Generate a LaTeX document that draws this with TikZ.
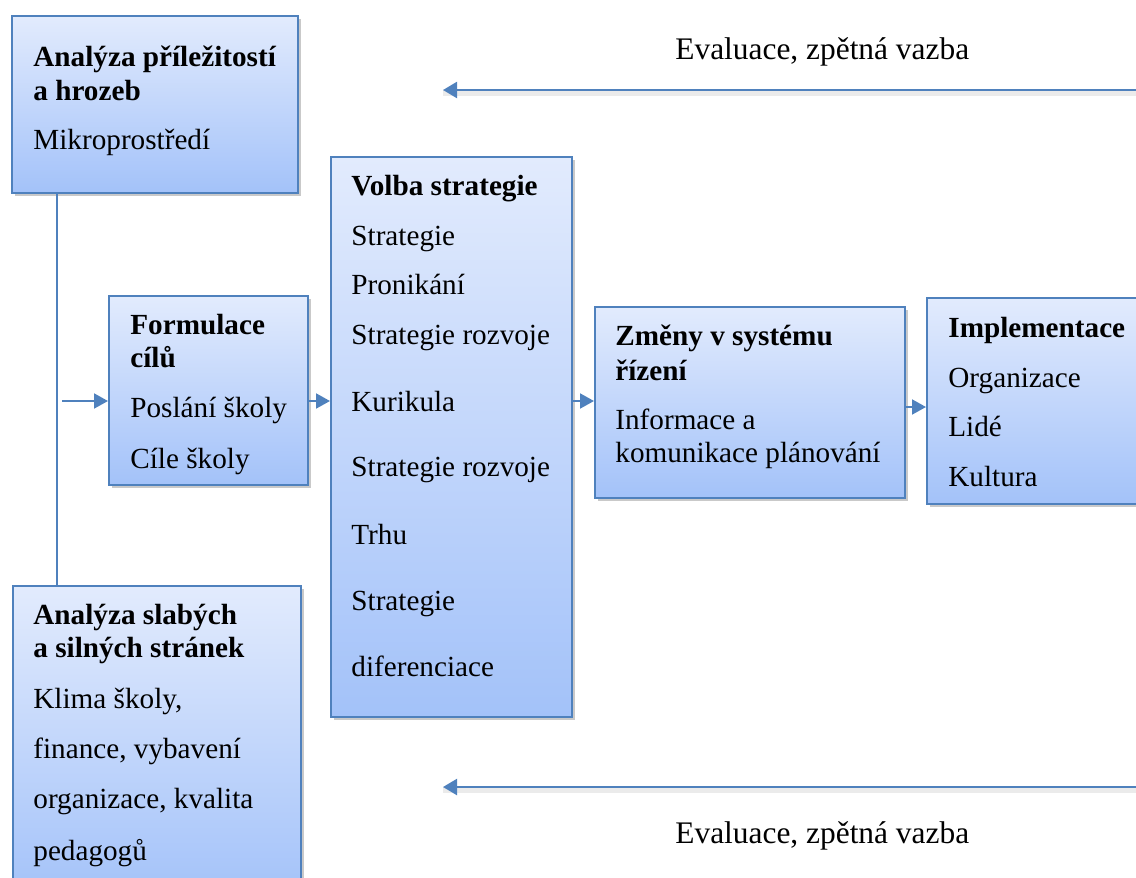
\documentclass[tikz,border=0pt]{standalone}
\usepackage{fontspec}
\setmainfont{Liberation Serif}
\usetikzlibrary{arrows.meta,shadows}
\definecolor{officeblue}{HTML}{4F81BD}
\definecolor{boxtop}{HTML}{E2EBFD}
\definecolor{boxbottom}{HTML}{A3C2F9}
\tikzset{
  stage/.style={
    draw=officeblue, line width=1pt,
    top color=boxtop, bottom color=boxbottom,
    drop shadow={shadow xshift=1.5pt, shadow yshift=-1.5pt, opacity=0.3, fill=black!70},
    inner sep=0pt
  },
  head/.style={anchor=base west, inner sep=0pt, font=\fontsize{14.6}{17}\selectfont\bfseries},
  item/.style={anchor=base west, inner sep=0pt, font=\fontsize{14.6}{17}\selectfont},
  note/.style={anchor=base west, inner sep=0pt, font=\fontsize{15.7}{18}\selectfont},
  flow/.style={draw=officeblue, line width=1pt, -{Triangle[length=7pt,width=7.5pt]}},
  feedback/.style={
    draw=officeblue, line width=1.1pt, -{Triangle[length=7pt,width=8pt]},
    preaction={draw=black!8, line width=3pt, transform canvas={yshift=-1.5pt}, -}
  },
}

\begin{document}
\begin{tikzpicture}[x=0.5pt,y=-0.5pt]
  \useasboundingbox (0,0) rectangle (1136,878);
  % boxes
  \node[stage, minimum width=143pt, minimum height=88.5pt] (opp) at (155,104.5) {};
  \node[stage, minimum width=99.5pt, minimum height=94.5pt] (goals) at (208.5,390.5) {};
  \node[stage, minimum width=120.5pt, minimum height=280pt] (strategy) at (451.5,437) {};
  \node[stage, minimum width=155pt, minimum height=95.5pt] (changes) at (750,402.5) {};
  \node[stage, minimum width=111.5pt, minimum height=103pt] (impl) at (1038.5,401) {};
  \node[stage, minimum width=144pt, minimum height=157pt] (weak) at (157,743) {};
  % box texts
  \foreach \y/\s/\t [count=\i] in {58/head/Analýza příležitostí, 92/head/a hrozeb, 141/item/Mikroprostředí} {%
    \node[\s] (opp-\i) at (33,\y+8) {\t};
  }
  \foreach \y/\s/\t [count=\i] in {326/head/Formulace, 359/head/cílů, 409/item/Poslání školy, 460/item/Cíle školy} {%
    \node[\s] (goals-\i) at (130,\y+8) {\t};
  }
  \foreach \y/\s/\t [count=\i] in {187/head/Volba strategie, 237/item/Strategie, 286/item/Pronikání,
      336/item/Strategie rozvoje, 403/item/Kurikula, 468/item/Strategie rozvoje, 536/item/Trhu,
      602/item/Strategie, 668/item/diferenciace} {%
    \node[\s] (strategy-\i) at (351,\y+8) {\t};
  }
  \foreach \y/\s/\t [count=\i] in {337/head/Změny v systému, 372/head/řízení, 421/item/Informace a,
      454/item/komunikace plánování} {%
    \node[\s] (changes-\i) at (615,\y+8) {\t};
  }
  \foreach \y/\s/\t [count=\i] in {329/head/Implementace, 379/item/Organizace, 428/item/Lidé, 478/item/Kultura} {%
    \node[\s] (impl-\i) at (948,\y+8) {\t};
  }
  \foreach \y/\s/\t [count=\i] in {616/head/Analýza slabých, 649/head/a silných stránek, 700/item/{Klima školy,},
      750/item/{finance, vybavení}, 800/item/{organizace, kvalita}, 852/item/pedagogů} {%
    \node[\s] (weak-\i) at (33,\y+8) {\t};
  }
  % analysis spine
  \coordinate (spine) at (57,401);
  \coordinate (feed) at (62,401);
  \coordinate (feedb) at (0,407);
  \draw[officeblue, line width=1pt] (opp.south -| spine) -- (weak.north -| spine);
  % flow
  \draw[flow] (feed) -- (goals.west |- feed);
  \draw[flow] (goals.east |- feed) -- (strategy.west |- feed);
  \draw[flow] (strategy.east |- feed) -- (changes.west |- feed);
  \draw[flow] (changes.east |- feedb) -- (impl.west |- feedb);
  % feedback
  \coordinate (fbtop) at (1140,90);
  \coordinate (fbtopend) at (443,90);
  \coordinate (fbbot) at (1140,787);
  \coordinate (fbbotend) at (443,787);
  \draw[feedback] (fbtop) -- (fbtopend);
  \draw[feedback] (fbbot) -- (fbbotend);
  \node[note] (evaltop) at (675,60) {Evaluace, zpětná vazba};
  \node[note] (evalbot) at (675,843) {Evaluace, zpětná vazba};
\end{tikzpicture}
\end{document}
